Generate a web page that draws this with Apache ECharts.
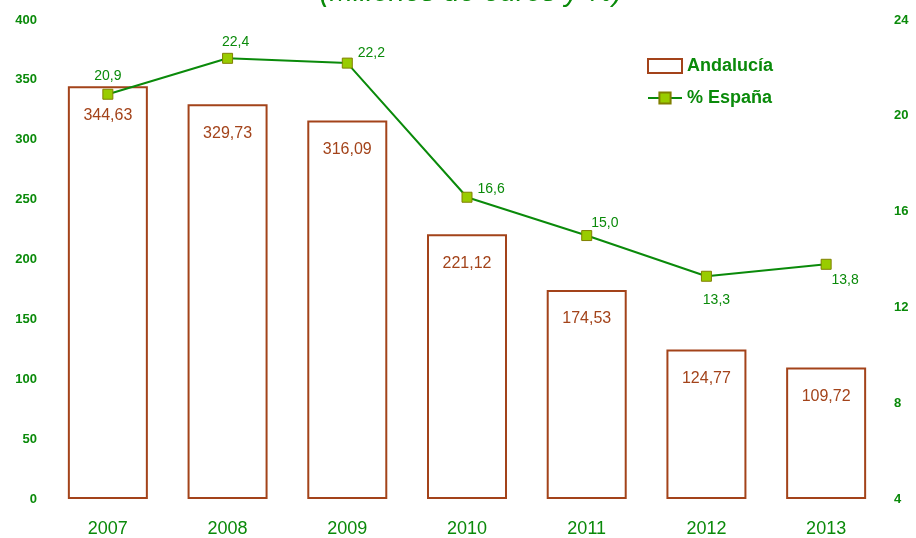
<!DOCTYPE html>
<html><head><meta charset="utf-8">
<script src="https://cdn.jsdelivr.net/npm/echarts@6/dist/echarts.min.js"></script>
<style>html,body{margin:0;padding:0;background:#fff}#c{width:916px;height:538px}</style>
</head><body><div id="c"></div>
<script>
const categories = ['2007','2008','2009','2010','2011','2012','2013'];
const andalucia = [344.63, 329.73, 316.09, 221.12, 174.53, 124.77, 109.72];
const espana = [20.9, 22.4, 22.2, 16.6, 15.0, 13.3, 13.8];
const leftTicks = {min: 0, max: 400, interval: 50};
const rightTicks = {min: 4, max: 24, interval: 4};

const green = '#0A8A0A';
const brown = '#A3431A';
const fmt = v => v.toFixed(2).replace('.', ',');
const fmt1 = v => v.toFixed(1).replace('.', ',');
const lineLabelPos = [
  {position:'top', offset:[0,-1]},
  {position:'top', offset:[8,1]},
  {position:'right', offset:[0,-10]},
  {position:'right', offset:[0,-8]},
  {position:'right', offset:[-6,-12]},
  {position:'bottom', offset:[10,6]},
  {position:'bottom', offset:[19,-2]}
];

const chart = echarts.init(document.getElementById('c'));
chart.setOption({
  animation: false,
  textStyle: {fontFamily: 'Liberation Sans, Arial, sans-serif'},
  title: {
    text: '(Millones de euros y %)', left: 466, textAlign: 'center', top: -27,
    textStyle: {color: green, fontSize: 29, fontStyle: 'italic', fontWeight: 'normal', fontFamily: 'Liberation Sans'}
  },
  legend: {
    orient: 'vertical', left: 642, top: 52, itemGap: 14,
    itemWidth: 34, itemHeight: 14,
    textStyle: {color: green, fontSize: 18, fontWeight: 'bold', fontFamily: 'Liberation Sans'},
    data: [{name: 'Andalucía', icon: 'rect'}, {name: '% España'}]
  },
  grid: {left: 48, right: 30, top: 20, bottom: 39, containLabel: false},
  xAxis: {
    type: 'category', data: categories,
    axisLine: {show: false}, axisTick: {show: false},
    axisLabel: {color: green, fontSize: 18, margin: 21}
  },
  yAxis: [
    {type: 'value', min: leftTicks.min, max: leftTicks.max, interval: leftTicks.interval,
     axisLine: {show: false}, axisTick: {show: false}, splitLine: {show: false},
     axisLabel: {color: green, fontSize: 13, fontWeight: 'bold', margin: 11}},
    {type: 'value', min: rightTicks.min, max: rightTicks.max, interval: rightTicks.interval,
     axisLine: {show: false}, axisTick: {show: false}, splitLine: {show: false},
     axisLabel: {color: green, fontSize: 13, fontWeight: 'bold', margin: 8}}
  ],
  series: [
    {name: 'Andalucía', type: 'bar', data: andalucia, barWidth: 80,
     itemStyle: {color: '#fff', borderColor: brown, borderWidth: 2},
     label: {show: true, position: 'insideTop', distance: 21, color: brown, fontSize: 16,
             formatter: p => fmt(p.value)}},
    {name: '% España', type: 'line', yAxisIndex: 1,
     data: espana.map((v, i) => ({value: v, label: lineLabelPos[i]})),
     symbol: 'rect', symbolSize: 10,
     lineStyle: {color: green, width: 2},
     itemStyle: {color: '#99CC00', borderColor: '#808000', borderWidth: 1},
     label: {show: true, color: green, fontSize: 14, formatter: p => fmt1(p.value)},
     z: 5}
  ]
});
</script></body></html>
